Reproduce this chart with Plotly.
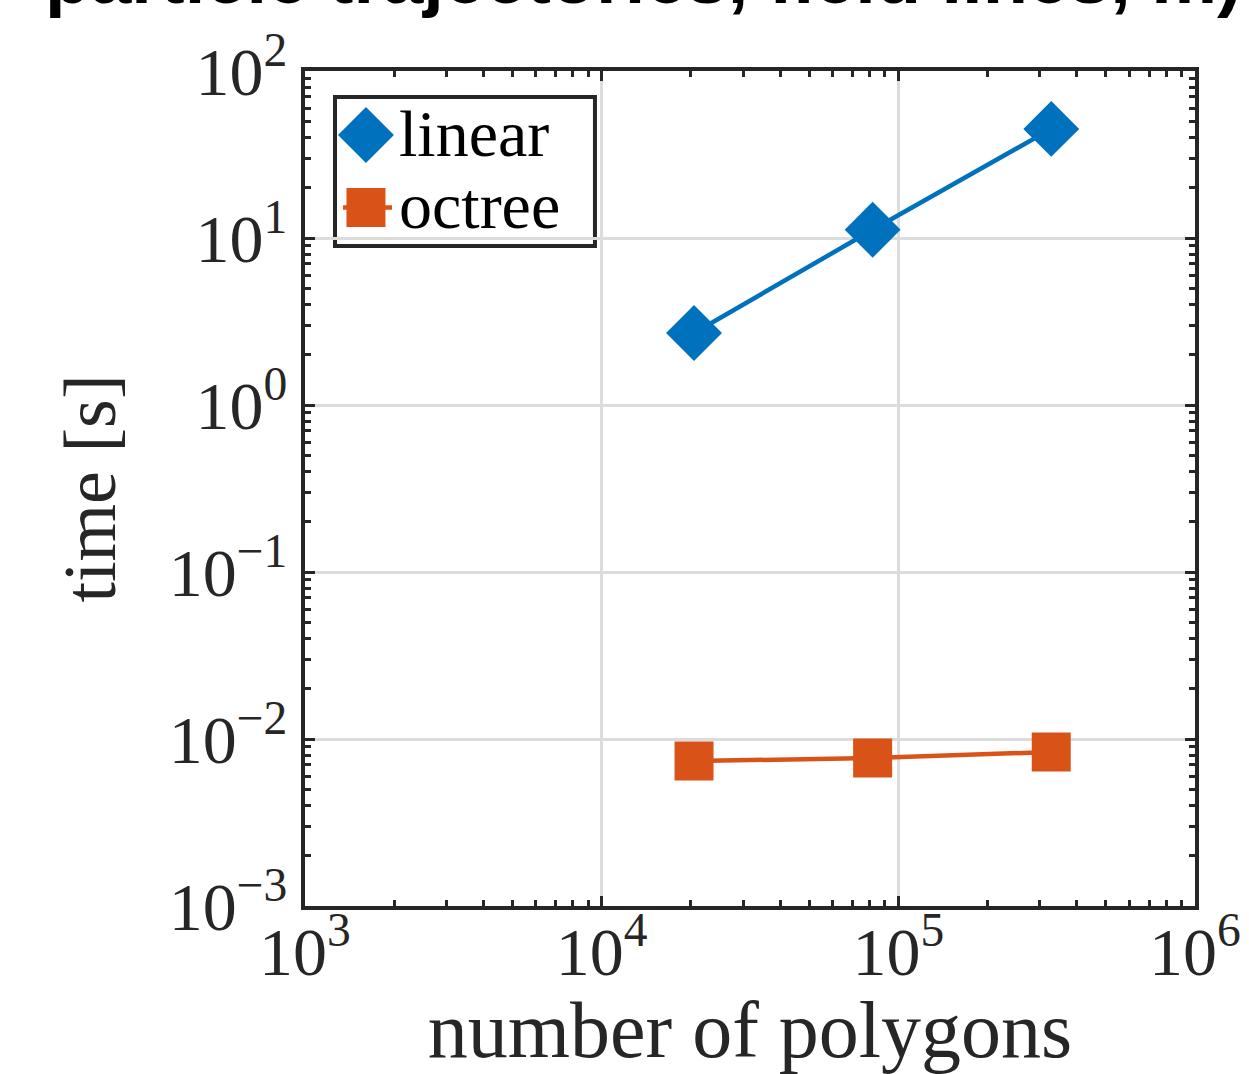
import numpy as np
import plotly.graph_objects as go

# ---------------- data ----------------
polygons = [20480, 81920, 327680]
linear_time = [2.70, 11.2, 45.0]
octree_time = [0.00738, 0.00769, 0.00836]

series_names = ["linear", "octree"]
series_colors = ["#0072BD", "#D95319"]

x_tick_vals = [1e3, 1e4, 1e5, 1e6]
x_tick_text = ["10<sup>3</sup>", "10<sup>4</sup>", "10<sup>5</sup>", "10<sup>6</sup>"]
y_tick_vals = [1e-3, 1e-2, 1e-1, 1e0, 1e1, 1e2]
y_tick_text = ["10<sup>−3</sup>", "10<sup>−2</sup>", "10<sup>−1</sup>",
               "10<sup>0</sup>", "10<sup>1</sup>", "10<sup>2</sup>"]

title_text = "particle trajectories, field lines, m)"
x_title = "number of polygons"
y_title = "time [s]"

# minor tick positions (2..9 in each decade)
def minor_vals(lo, hi):
    out = []
    for e in range(lo, hi):
        for m in range(2, 10):
            out.append(m * 10.0 ** e)
    return out

x_minor = minor_vals(3, 6)
y_minor = minor_vals(-3, 2)

AX = "#262626"
SERIF = "Liberation Serif"

fig = go.Figure()

fig.add_trace(go.Scatter(
    x=polygons, y=linear_time, mode="lines+markers", name=series_names[0],
    line=dict(color=series_colors[0], width=4.5),
    marker=dict(symbol="diamond", size=43, color=series_colors[0], line=dict(width=0)),
    showlegend=False))
fig.add_trace(go.Scatter(
    x=polygons, y=octree_time, mode="lines+markers", name=series_names[1],
    line=dict(color=series_colors[1], width=4.5),
    marker=dict(symbol="square", size=39, color=series_colors[1], line=dict(width=0)),
    showlegend=False))

# ---- hand-made legend (overlay axes in 0..1 units) ----
leg_x = 0.0685
leg_y = [0.9234, 0.8365]
fig.add_trace(go.Scatter(
    x=[0.0427, 0.0978], y=[leg_y[1], leg_y[1]], mode="lines",
    line=dict(color=series_colors[1], width=4.5),
    xaxis="x2", yaxis="y2", showlegend=False, hoverinfo="skip"))
fig.add_trace(go.Scatter(
    x=[leg_x], y=[leg_y[0]], mode="markers",
    marker=dict(symbol="diamond", size=43, color=series_colors[0], line=dict(width=0)),
    xaxis="x2", yaxis="y2", showlegend=False, hoverinfo="skip"))
fig.add_trace(go.Scatter(
    x=[leg_x], y=[leg_y[1]], mode="markers",
    marker=dict(symbol="square", size=39, color=series_colors[1], line=dict(width=0)),
    xaxis="x2", yaxis="y2", showlegend=False, hoverinfo="skip"))

for name, yy in zip(series_names, [0.9257, 0.8395]):
    fig.add_annotation(x=0.1034, y=yy, xref="paper", yref="paper",
                       text=name, showarrow=False, xanchor="left", yanchor="middle",
                       font=dict(family=SERIF, size=66, color="black"))

fig.add_shape(type="rect", xref="paper", yref="paper",
              x0=0.0337, x1=0.3258, y0=0.7904, y1=0.9689,
              line=dict(color=AX, width=4), fillcolor="white", layer="between")

axis_common = dict(
    type="log", showline=True, linecolor=AX, linewidth=4, mirror="ticks",
    ticks="inside", ticklen=10, tickwidth=3, tickcolor=AX,
    showgrid=True, gridcolor="#dcdcdc", gridwidth=3, zeroline=False,
    automargin=False,
    tickfont=dict(family=SERIF, size=68, color=AX),
)

fig.update_layout(
    width=1249, height=1074,
    margin=dict(l=305, r=54, t=71, b=168),
    paper_bgcolor="white", plot_bgcolor="white",
    title=dict(text=title_text, x=0.036, xanchor="left", xref="container",
               y=0.997, yanchor="bottom", yref="container",
               pad=dict(t=0, b=0, l=0, r=0),
               font=dict(family="Liberation Sans", size=74, color="black", weight="bold")),
    xaxis=dict(axis_common, range=[3, 6], tickmode="array",
               tickvals=x_tick_vals, ticktext=x_tick_text,
               ticklabelstandoff=-17,
               minor=dict(tickmode="array", tickvals=x_minor, ticks="inside",
                          ticklen=6, tickwidth=2.5, tickcolor=AX, showgrid=False),
               title=dict(text=x_title, font=dict(family=SERIF, size=80, color=AX),
                          standoff=0)),
    yaxis=dict(axis_common, range=[-3, 2], tickmode="array",
               tickvals=y_tick_vals, ticktext=y_tick_text,
               minor=dict(tickmode="array", tickvals=y_minor, ticks="inside",
                          ticklen=6, tickwidth=2.5, tickcolor=AX, showgrid=False),
               title=dict(text=y_title, font=dict(family=SERIF, size=74, color=AX),
                          standoff=30)),
    xaxis2=dict(overlaying="x", range=[0, 1], visible=False, anchor="y2"),
    yaxis2=dict(overlaying="y", range=[0, 1], visible=False, anchor="x2"),
    showlegend=False,
)

fig.write_html("out.html",
               config={"displayModeBar": False},
               post_script="document.body.style.margin='0px';"
                           "document.body.style.overflow='hidden';")
